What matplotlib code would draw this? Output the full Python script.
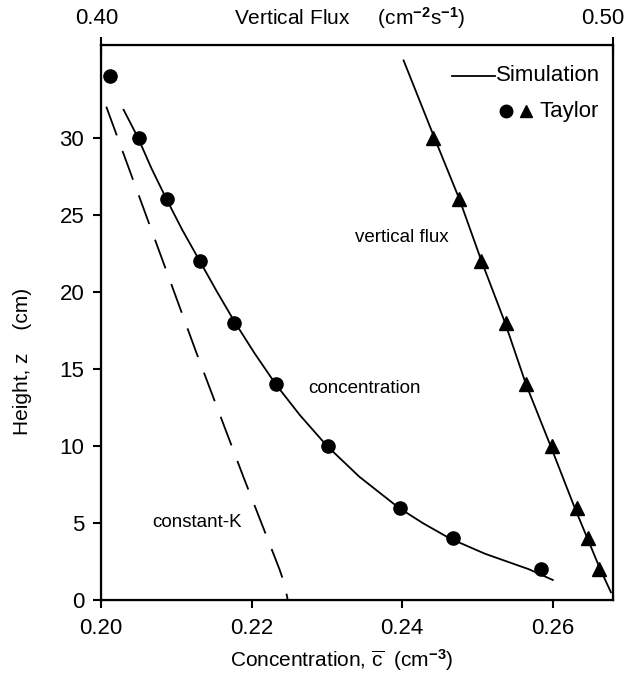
import matplotlib
matplotlib.use("Agg")
import matplotlib.pyplot as plt

plt.rcParams['font.family'] = ['Liberation Sans', 'DejaVu Sans']
plt.rcParams['mathtext.fontset'] = 'custom'
plt.rcParams['mathtext.rm'] = 'Liberation Sans'
plt.rcParams['mathtext.it'] = 'Liberation Sans:italic'
plt.rcParams['mathtext.bf'] = 'Liberation Sans:bold'
plt.rcParams['lines.scale_dashes'] = False

# Taylor measurements: concentration (circles)
conc_z = [34, 30, 26, 22, 18, 14, 10, 6, 4, 2]
conc_c = [0.2012, 0.2050, 0.2087, 0.2131, 0.2177, 0.2232, 0.2301, 0.2397, 0.2467, 0.2585]

# Simulation: concentration curve
sim_c_z = [31.8, 30, 28, 26, 24, 22, 20, 18, 16, 14, 12, 10, 8, 6, 5, 4, 3, 2, 1.3]
sim_c = [0.2030, 0.2049, 0.2067, 0.2087, 0.2108, 0.2131, 0.2154, 0.2178, 0.2204,
         0.2232, 0.2264, 0.2300, 0.2343, 0.2395, 0.2427, 0.2463, 0.2510, 0.2568, 0.2600]

# Constant-K concentration (dashed)
constk_z = [32, 28, 24, 20, 16, 12, 8, 6, 4, 3, 2, 1, 0]
constk_c = [0.2007, 0.2037, 0.2067, 0.2097, 0.2127, 0.2158, 0.2189, 0.2205, 0.2221,
            0.2229, 0.2237, 0.2244, 0.2248]

# Taylor measurements: vertical flux (triangles)
flux_z = [30, 26, 22, 18, 14, 10, 6, 4, 2]
flux_v = [0.4649, 0.4700, 0.4742, 0.4791, 0.4831, 0.4881, 0.4929, 0.4952, 0.4973]

# Simulation: vertical flux curve
sim_f_z = [35.0, 30, 26, 22, 18, 14, 10, 6, 4, 2, 0.5]
sim_f = [0.4591, 0.4651, 0.4700, 0.4743, 0.4789, 0.4830, 0.4878, 0.4925, 0.4950, 0.4975, 0.4996]

x_ticks = [0.20, 0.22, 0.24, 0.26]
x_ticklabels = ['0.20', '0.22', '0.24', '0.26']
y_ticks = [0, 5, 10, 15, 20, 25, 30]
top_ticks = [0.40, 0.50]
top_ticklabels = ['0.40', '0.50']

fig = plt.figure(figsize=(6.33, 6.82), dpi=100)
ax = fig.add_axes([101/633, 1-600/682, (613-101)/633, (600-45)/682])

ax.plot(sim_c, sim_c_z, color='black', lw=1.3)
ax.plot(constk_c, constk_z, color='black', lw=1.3, linestyle=(0, (22, 12)))
ax.plot(conc_c, conc_z, 'o', color='black', ms=9.5, clip_on=False)

ax.set_xlim(0.20, 0.268)
ax.set_ylim(0, 36)
ax.set_xticks(x_ticks)
ax.set_xticklabels(x_ticklabels)
ax.set_yticks(y_ticks)
ax.tick_params(axis='both', direction='out', length=6, width=1.5, labelsize=16, pad=6)
ax.tick_params(axis='x', pad=7)
for s in ax.spines.values():
    s.set_linewidth(1.6)

ax2 = ax.twiny()
ax2.plot(sim_f, sim_f_z, color='black', lw=1.3)
ax2.plot(flux_v, flux_z, '^', color='black', ms=10)
ax2.set_xlim(0.40, 0.50)
ax2.set_ylim(0, 36)
ax2.set_xticks(top_ticks)
ax2.set_xticklabels([])
ax2.tick_params(axis='x', direction='inout', length=12, width=1.5)
# top tick labels placed as text (right one shifted to stay inside the figure)
fig.text(97/633, 1-18/682, top_ticklabels[0], ha='center', va='center', fontsize=16)
fig.text(603/633, 1-18/682, top_ticklabels[1], ha='center', va='center', fontsize=16)

ax.set_xlabel(r'Concentration, $\overline{\mathrm{c}}$  (cm$^{\mathbf{-3}}$)', fontsize=15)
ax.xaxis.set_label_coords(0.47, -0.085)
ax.set_ylabel('Height, z    (cm)', fontsize=15)
ax.yaxis.set_label_coords(-0.135, 0.43)
fig.text(350/633, 1-18/682, r'Vertical Flux     (cm$^{\mathbf{-2}}$s$^{\mathbf{-1}}$)',
         ha='center', va='center', fontsize=15)

# annotations
ax.text(0.2337, 23.5, 'vertical flux', fontsize=13.5, ha='left', va='center')
ax.text(0.2275, 13.75, 'concentration', fontsize=13.5, ha='left', va='center')
ax.text(0.2068, 5.05, 'constant-K', fontsize=13.5, ha='left', va='center')

# legend
ax.plot([0.2466, 0.2523], [34.0, 34.0], color='black', lw=1.3)
ax.text(0.2524, 34.0, 'Simulation', fontsize=16, ha='left', va='center')
ax.plot([0.2538], [31.7], 'o', color='black', ms=9)
ax.plot([0.2565], [31.7], '^', color='black', ms=9)
ax.text(0.2582, 31.7, 'Taylor', fontsize=16, ha='left', va='center')

fig.savefig('out.png', dpi=100)
